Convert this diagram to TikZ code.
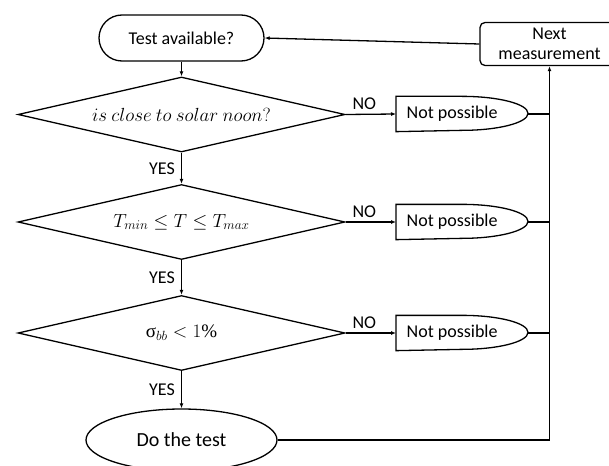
\RequirePackage{fix-cm}
\documentclass[tikz,border=0pt]{standalone}
\usepackage{fontspec}
\setmainfont{Carlito}
\newfontfamily\grfont{Liberation Serif}
\usetikzlibrary{shapes.geometric,arrows.meta}
\tikzset{
  base/.style={font=\fontsize{18}{20}\selectfont},
  startbox/.style={base, draw, rounded corners=23pt, minimum width=165, minimum height=46, inner sep=0},
  nextbox/.style={base, draw, rounded corners=5pt, minimum width=139, minimum height=43, inner sep=0, align=center},
  decision/.style={base, draw, diamond, aspect=4.36, inner sep=0, minimum width=327, minimum height=75},
  delaytext/.style={base, anchor=west, minimum height=34, inner xsep=10pt},
  endshape/.style={font=\fontsize{20}{22}\selectfont, draw, ellipse, minimum width=191, minimum height=62, inner sep=0},
  flow/.style={-{Latex[length=5pt,width=4pt]}},
  lbl/.style={base, inner sep=2pt}
}
\newcommand{\delayshape}[1]{%
  \draw (#1.north west) -- ++(66pt,0pt) arc[start angle=90, end angle=-90, x radius=66pt, y radius=17pt] -- (#1.south west) -- cycle;
  \coordinate (#1e) at ([xshift=132pt]#1.west);}
\begin{document}
\begin{tikzpicture}[x=1pt, y=-1pt, line width=1.3pt]
\useasboundingbox (0,0) rectangle (609,465);
\node[startbox] (ta) at (181.5,38) {Test available?};
\node[nextbox] (nm) at (549.5,44) {Next\\measurement};
\node[decision] (d1) at (181.5,114.5) {\fontsize{19}{20}\selectfont$is\ close\ to\ solar\ noon?$};
\node[decision] (d2) at (181.5,222) {\fontsize{19}{20}\selectfont$T_{min} \leq T \leq T_{max}$};
\node[decision] (d3) at (181.5,333) {\fontsize{19}{20}\selectfont{\grfont σ}$_{bb} < 1${\grfont\%}};
\node[endshape] (dt) at (181.5,440) {Do the test};
\node[delaytext] (np1) at (396,114) {Not possible};
\node[delaytext] (np2) at (396,222) {Not possible};
\node[delaytext] (np3) at (396,333) {Not possible};
\delayshape{np1}
\delayshape{np2}
\delayshape{np3}
\coordinate (c) at (549.5,440);
\draw[flow] (ta) -- (d1);
\draw[flow] (d1) -- node[lbl, left=4pt] {YES} (d2);
\draw[flow] (d2) -- node[lbl, left=4pt] {YES} (d3);
\draw[flow] (d3) -- node[lbl, left=4pt] {YES} (dt);
\draw[flow] (d1.east) -- node[lbl, pos=0.37, above=2pt] {NO} (np1.west);
\draw[flow] (d2.east) -- node[lbl, pos=0.37, above=2pt] {NO} (np2.west);
\draw[flow] (d3.east) -- node[lbl, pos=0.37, above=2pt] {NO} (np3.west);
\draw (np1e) -- (np1e -| c);
\draw (np2e) -- (np2e -| c);
\draw (np3e) -- (np3e -| c);
\draw[flow] (dt.east) -- (c) -- (nm.south);
\draw[flow] (nm.west) -- (ta.east);
\end{tikzpicture}
\end{document}
